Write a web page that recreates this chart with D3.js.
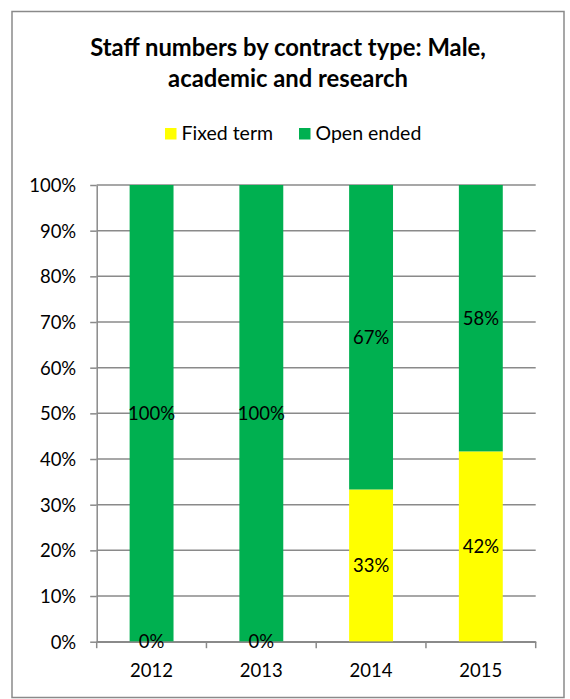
<!DOCTYPE html>
<html>
<head>
<meta charset="utf-8">
<script src="https://cdn.jsdelivr.net/npm/d3@7"></script>
<style>
  html, body { margin: 0; padding: 0; background: #fff; }
  svg { display: block; }
  text { font-family: Lato, "Open Sans", sans-serif; fill: #000; }
</style>
</head>
<body>
<svg id="chart" width="570" height="699"></svg>
<script>
const titleLines = ["Staff numbers by contract type: Male,", "academic and research"];
const years = ["2012", "2013", "2014", "2015"];
const seriesNames = ["Fixed term", "Open ended"];
const seriesColors = ["#FFFF00", "#00B050"];
const fixedTerm = [0, 0, 33.33, 41.67];
const openEnded = [100, 100, 66.67, 58.33];
const yTicks = [0, 10, 20, 30, 40, 50, 60, 70, 80, 90, 100];

const svg = d3.select("#chart");
const W = 570, H = 699;
svg.append("rect").attr("width", W).attr("height", H).attr("fill", "#fff");
svg.append("rect").attr("x", 12).attr("y", 11.5).attr("width", 552).attr("height", 686)
  .attr("fill", "none").attr("stroke", "#8a8a8a").attr("stroke-width", 1.5);

const plot = { left: 96.7, right: 535.7, top: 185, bottom: 641.7 };

// Title
svg.append("text").attr("x", 288).attr("y", 56).attr("text-anchor", "middle")
  .attr("font-weight", "bold").attr("font-size", 23.8).text(titleLines[0]);
svg.append("text").attr("x", 288).attr("y", 87).attr("text-anchor", "middle")
  .attr("font-weight", "bold").attr("font-size", 23.8).text(titleLines[1]);

// Legend
const legendX = [165, 299];
seriesNames.forEach((n, i) => {
  svg.append("rect").attr("x", legendX[i]).attr("y", 128).attr("width", 11.5).attr("height", 11.5)
    .attr("fill", seriesColors[i]);
  svg.append("text").attr("x", legendX[i] + 16.5).attr("y", 140).attr("font-size", 19.5).text(n);
});

const x = d3.scaleBand().domain(years).range([plot.left, plot.right])
  .paddingInner(0.6).paddingOuter(0.3);
const y = d3.scaleLinear().domain([0, 100]).range([plot.bottom, plot.top]);

// Gridlines
svg.append("g").selectAll("line").data(yTicks).join("line")
  .attr("x1", plot.left).attr("x2", plot.right)
  .attr("y1", d => y(d)).attr("y2", d => y(d))
  .attr("stroke", "#8a8a8a").attr("stroke-width", 1.5);

// Bars
const stackData = years.map((yr, i) => ({ year: yr, "Fixed term": fixedTerm[i], "Open ended": openEnded[i] }));
const stacked = d3.stack().keys(seriesNames)(stackData);
const gBars = svg.append("g");
stacked.forEach((s, si) => {
  gBars.selectAll(null).data(s).join("rect")
    .attr("x", d => x(d.data.year)).attr("width", x.bandwidth())
    .attr("y", d => y(d[1])).attr("height", d => y(d[0]) - y(d[1]))
    .attr("fill", seriesColors[si]);
});

// Y axis
const yAxis = svg.append("g").attr("transform", `translate(${plot.left},0)`)
  .call(d3.axisLeft(y).tickValues(yTicks).tickFormat(d => d + "%").tickSize(6.5).tickSizeOuter(0).tickPadding(14));
yAxis.select(".domain").attr("stroke", "#8a8a8a").attr("stroke-width", 1.5);
yAxis.selectAll(".tick line").attr("stroke", "#8a8a8a").attr("stroke-width", 1.5);
yAxis.selectAll(".tick text").attr("font-size", 18.5).attr("font-family", "Lato").attr("fill", "#000").attr("dy", "0.35em");

// X axis (labels)
const xAxis = svg.append("g").attr("transform", `translate(0,${plot.bottom})`)
  .call(d3.axisBottom(x).tickSize(0).tickPadding(22));
xAxis.select(".domain").attr("stroke", "#8a8a8a").attr("stroke-width", 1.5);
xAxis.selectAll(".tick text").attr("font-size", 18.5).attr("font-family", "Lato").attr("fill", "#000");
// category boundary ticks
const bounds = years.map(yr => x(yr) - (x.step() - x.bandwidth()) / 2);
bounds.push(plot.right);
svg.append("g").selectAll("line").data(bounds).join("line")
  .attr("x1", d => d).attr("x2", d => d)
  .attr("y1", plot.bottom).attr("y2", plot.bottom + 6.5)
  .attr("stroke", "#8a8a8a").attr("stroke-width", 1.5);

// Data labels
stacked.forEach((s, si) => {
  svg.append("g").selectAll("text").data(s).join("text")
    .attr("x", d => x(d.data.year) + x.bandwidth() / 2)
    .attr("y", d => y((d[0] + d[1]) / 2))
    .attr("dy", "0.35em")
    .attr("text-anchor", "middle").attr("font-size", 18.5)
    .text(d => Math.round(d[1] - d[0]) + "%");
});
</script>
</body>
</html>
